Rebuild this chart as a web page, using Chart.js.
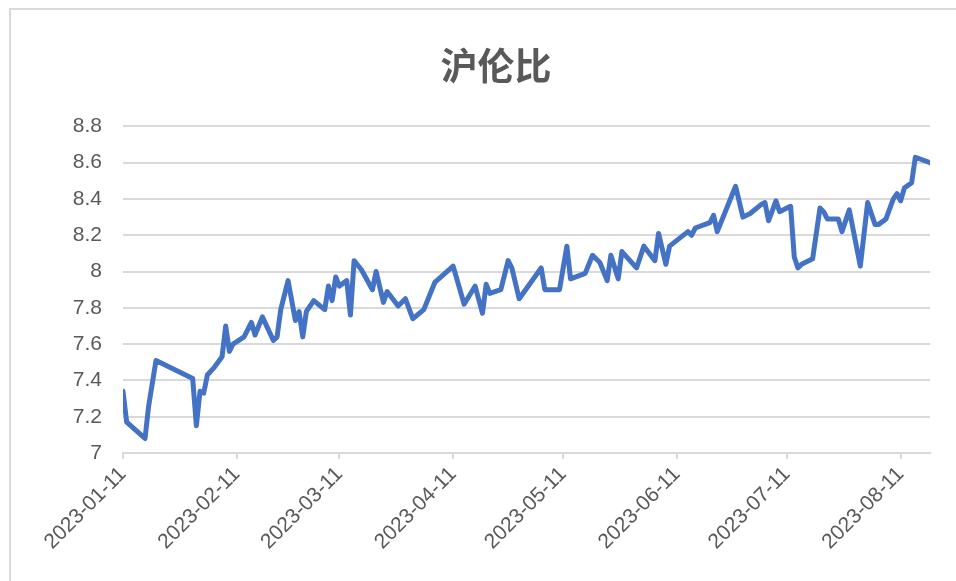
<!DOCTYPE html>
<html>
<head>
<meta charset="utf-8">
<script src="https://cdn.jsdelivr.net/npm/chart.js@4.4.0/dist/chart.umd.min.js"></script>
<style>
  html, body { margin: 0; padding: 0; background: #fff; overflow: hidden; }
  #frame { position: absolute; left: 9px; top: 8px; width: 1000px; height: 700px; border: 2px solid #d9d9d9; }
  #ratioChart { position: absolute; left: 0; top: 0; }
</style>
</head>
<body>
<div id="frame"></div>
<canvas id="ratioChart" width="956" height="581"></canvas>
<script>
const dates = [
    '2023-01-11', '2023-01-12', '2023-01-17', '2023-01-18', '2023-01-20', '2023-01-30', '2023-01-31',
    '2023-02-01', '2023-02-02', '2023-02-03', '2023-02-05', '2023-02-07', '2023-02-08', '2023-02-09',
    '2023-02-10', '2023-02-13', '2023-02-15', '2023-02-16', '2023-02-18', '2023-02-21', '2023-02-22',
    '2023-02-23', '2023-02-25', '2023-02-27', '2023-02-28', '2023-03-01', '2023-03-02', '2023-03-04',
    '2023-03-07', '2023-03-08', '2023-03-09', '2023-03-10', '2023-03-11', '2023-03-13', '2023-03-14',
    '2023-03-15', '2023-03-17', '2023-03-20', '2023-03-21', '2023-03-23', '2023-03-24', '2023-03-27',
    '2023-03-29', '2023-03-31', '2023-04-03', '2023-04-06', '2023-04-11', '2023-04-14', '2023-04-17',
    '2023-04-19', '2023-04-20', '2023-04-21', '2023-04-24', '2023-04-26', '2023-04-27', '2023-04-29',
    '2023-05-05', '2023-05-06', '2023-05-10', '2023-05-11', '2023-05-12', '2023-05-13', '2023-05-17',
    '2023-05-19', '2023-05-21', '2023-05-23', '2023-05-24', '2023-05-26', '2023-05-27', '2023-05-31',
    '2023-06-02', '2023-06-05', '2023-06-06', '2023-06-08', '2023-06-09', '2023-06-14', '2023-06-15',
    '2023-06-16', '2023-06-20', '2023-06-21', '2023-06-22', '2023-06-27', '2023-06-29', '2023-07-01',
    '2023-07-04', '2023-07-05', '2023-07-06', '2023-07-08', '2023-07-09', '2023-07-11', '2023-07-12',
    '2023-07-13', '2023-07-14', '2023-07-15', '2023-07-18', '2023-07-20', '2023-07-21', '2023-07-22',
    '2023-07-25', '2023-07-26', '2023-07-28', '2023-07-31', '2023-08-02', '2023-08-04', '2023-08-05',
    '2023-08-07', '2023-08-09', '2023-08-10', '2023-08-11', '2023-08-12', '2023-08-14', '2023-08-15',
    '2023-08-19'
];

const ratio = [
    7.34, 7.17, 7.08, 7.26, 7.51, 7.41, 7.15,
    7.34, 7.33, 7.43, 7.475, 7.53, 7.70, 7.56,
    7.60, 7.64, 7.72, 7.65, 7.75, 7.62, 7.64,
    7.79, 7.95, 7.73, 7.78, 7.64, 7.78, 7.84,
    7.79, 7.92, 7.84, 7.97, 7.92, 7.95, 7.76,
    8.06, 8.01, 7.90, 8.00, 7.83, 7.89, 7.81,
    7.85, 7.74, 7.79, 7.94, 8.03, 7.82, 7.92,
    7.77, 7.93, 7.88, 7.90, 8.06, 8.02, 7.85,
    8.02, 7.90, 7.90, 8.02, 8.14, 7.96, 7.99,
    8.09, 8.05, 7.95, 8.09, 7.96, 8.11, 8.02,
    8.14, 8.06, 8.21, 8.04, 8.14, 8.22, 8.20,
    8.24, 8.27, 8.31, 8.22, 8.47, 8.30, 8.32,
    8.37, 8.38, 8.28, 8.39, 8.33, 8.35, 8.36,
    8.08, 8.02, 8.04, 8.07, 8.35, 8.33, 8.29,
    8.29, 8.22, 8.34, 8.03, 8.38, 8.26, 8.26,
    8.29, 8.40, 8.43, 8.39, 8.46, 8.49, 8.63,
    8.60
];

const tickDates = ['2023-01-11', '2023-02-11', '2023-03-11', '2023-04-11',
                   '2023-05-11', '2023-06-11', '2023-07-11', '2023-08-11'];
const endDate = '2023-08-19';

const yMin = 7;
const yMax = 8.8;
const yStep = 0.2;

// days since the first date, so the x axis keeps real calendar spacing
function dayOf(s) {
    const p = s.split('-').map(Number);
    return (Date.UTC(p[0], p[1] - 1, p[2]) - Date.UTC(2023, 0, 11)) / 86400000;
}

const points = dates.map((d, i) => ({ x: dayOf(d), y: ratio[i] }));
const tickDays = tickDates.map(dayOf);

const gridColor = '#d9d9d9';
const textColor = '#595959';
const axisFont = { family: '"Liberation Sans", Arial, sans-serif', size: 21 };

const ctx = document.getElementById('ratioChart').getContext('2d');
const ratioChart = new Chart(ctx, {
    type: 'line',
    data: {
        datasets: [{
            label: '沪伦比',
            data: points,
            borderColor: '#4472c4',
            borderWidth: 5,
            borderJoinStyle: 'round',
            borderCapStyle: 'round',
            pointRadius: 0,
            tension: 0,
            fill: false
        }]
    },
    options: {
        responsive: false,
        animation: false,
        // left padding shifts the centred title to where the original has it
        layout: { padding: { left: 62, right: 26, top: 0, bottom: 0 } },
        plugins: {
            legend: { display: false },
            tooltip: { enabled: false },
            title: {
                display: true,
                text: '沪伦比',
                color: textColor,
                font: { family: '"Noto Sans CJK SC", sans-serif', size: 37, weight: 'bold' },
                padding: { top: 44, bottom: 38 }
            }
        },
        scales: {
            x: {
                type: 'linear',
                min: 0,
                max: dayOf(endDate),
                afterBuildTicks: (scale) => {
                    scale.ticks = tickDays.map(v => ({ value: v }));
                },
                afterFit: (scale) => { scale.height = 128; },
                grid: {
                    drawOnChartArea: false,
                    drawTicks: true,
                    tickLength: 6,
                    color: gridColor,
                    lineWidth: 2
                },
                border: { color: gridColor, width: 2 },
                ticks: {
                    autoSkip: false,
                    minRotation: 45,
                    maxRotation: 45,
                    padding: 3,
                    color: textColor,
                    font: axisFont,
                    callback: (value, index) => tickDates[index]
                }
            },
            y: {
                min: yMin,
                max: yMax,
                afterFit: (scale) => { scale.width = 61; },
                grid: {
                    color: gridColor,
                    lineWidth: 2,
                    drawTicks: false
                },
                border: { display: false },
                ticks: {
                    stepSize: yStep,
                    padding: 21,
                    color: textColor,
                    font: axisFont,
                    callback: (value) => String(Number(value.toFixed(1)))
                }
            }
        }
    }
});
</script>
</body>
</html>
